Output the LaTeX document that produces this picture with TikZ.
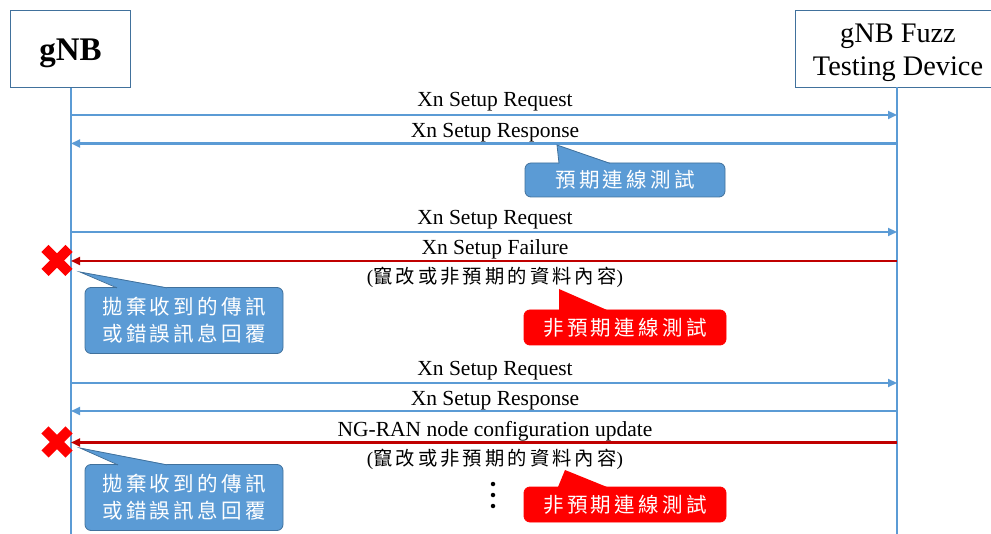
\documentclass[tikz,border=0pt]{standalone}
\usepackage{fontspec}
\setmainfont{Liberation Serif}
\newfontfamily\cjk[LetterSpace=16]{Noto Sans CJK TC}
\usetikzlibrary{arrows.meta,calc}
\definecolor{lifeblue}{HTML}{5B9BD5}
\definecolor{darkblue}{HTML}{41719C}
\definecolor{msgred}{HTML}{C00000}
\definecolor{xred}{HTML}{FF0000}
\begin{document}
\begin{tikzpicture}[x=1pt,y=-1pt,
  hdr/.style={draw=darkblue, line width=0.8pt, fill=white, inner sep=0pt},
  hdrtxt/.style={align=center, inner sep=0pt},
  life/.style={draw=lifeblue, line width=2.3pt},
  msg/.style={draw=lifeblue, line width=2.2pt, -{Triangle[length=9pt,width=8pt]}},
  bad/.style={draw=msgred, line width=2.2pt, -{Triangle[length=9pt,width=8pt]}},
  lbl/.style={font=\fontsize{21.5}{26}\selectfont, inner sep=0pt, anchor=base, xshift=11pt},
  sub/.style={font=\fontsize{19.3}{23}\selectfont, inner sep=0pt, xshift=11pt},
  callfont/.style={font=\cjk\fontsize{20.5}{27}\selectfont},
  bcall/.style={fill=lifeblue, draw=darkblue, line width=0.8pt, rounded corners=6pt, text=white, align=center, inner sep=0pt, callfont},
  rcall/.style={fill=xred, draw=xred, line width=0.8pt, rounded corners=6pt, text=white, align=center, inner sep=0pt, callfont},
  xmark/.style={draw=xred, line width=10pt},
  dot/.style={circle, fill=black, inner sep=0pt, minimum size=4.5pt},
]
\useasboundingbox (0,0) rectangle (991,534);

% headers
\node[hdr, minimum width=120pt, minimum height=77pt] (gnb) at (70.5,49) {};
\node[hdrtxt, font=\bfseries\fontsize{33}{38}\selectfont, yshift=-4pt] (gnblbl) at (gnb.center) {gNB};
\node[hdr, minimum width=206pt, minimum height=77pt] (fuzz) at (898,48.5) {};
\node[hdrtxt, font=\fontsize{28.3}{33}\selectfont, yshift=-4pt] (fuzzlbl) at (fuzz.center) {gNB Fuzz\\Testing Device};

% lifelines
\coordinate (lend) at (71,534);
\coordinate (rend) at (897,534);
\draw[life] (gnb.south -| lend) -- (lend);
\draw[life] (fuzz.south -| rend) -- (rend);

% message endpoints
\foreach \n/\y in {1/115,2/143.5,3/232,4/261,5/383,6/411,7/442.5}{
  \coordinate (l\n) at (71,\y);
  \coordinate (r\n) at (897,\y);
}

\draw[msg] (l1) -- (r1) node[lbl, midway, yshift=8pt] {Xn Setup Request};
\draw[msg] (r2) -- (l2) node[lbl, midway, yshift=5.5pt] {Xn Setup Response};
\draw[msg] (l3) -- (r3) node[lbl, midway, yshift=7.5pt] {Xn Setup Request};
\draw[bad] (r4) -- (l4) node[lbl, midway, yshift=6.5pt] {Xn Setup Failure}
  node[sub, midway, yshift=-16.5pt] {(\cjk 竄改或非預期的資料內容\rm)};
\draw[msg] (l5) -- (r5) node[lbl, midway, yshift=7.5pt] {Xn Setup Request};
\draw[msg] (r6) -- (l6) node[lbl, midway, yshift=5.5pt] {Xn Setup Response};
\draw[bad] (r7) -- (l7) node[lbl, midway, yshift=6pt] {NG-RAN node configuration update}
  node[sub, midway, yshift=-17pt] {(\cjk 竄改或非預期的資料內容\rm)};

% red crosses
\coordinate (x1) at (57,260.5);
\coordinate (x2) at (57,442);
\foreach \c in {x1,x2}{
  \draw[xmark] ($(\c)+(-12,-12)$) -- ($(\c)+(12,12)$);
  \draw[xmark] ($(\c)+(-12,12)$) -- ($(\c)+(12,-12)$);
}

% callouts
\node[bcall, minimum width=200pt, minimum height=34pt] (c1) at (625,180) {預期連線測試};
\coordinate (c1t) at (557,145);
\fill[lifeblue] (559,163) -- (c1t) -- (610,163) -- (610,166) -- (559,166) -- cycle;
\draw[darkblue, line width=0.8pt] (559,163.4) -- (c1t) -- (610,163.4);

\node[bcall, minimum width=198pt, minimum height=66pt] (c2) at (184,320.5) {拋棄收到的傳訊\\或錯誤訊息回覆};
\coordinate (c2t) at (80,272);
\fill[lifeblue] (117,287.5) -- (c2t) -- (167,287.5) -- (167,290) -- (117,290) -- cycle;
\draw[darkblue, line width=0.8pt] (117,287.9) -- (c2t) -- (167,287.9);

\node[rcall, minimum width=202pt, minimum height=35pt] (c3) at (625,327.5) {非預期連線測試};
\coordinate (c3t) at (559,289);
\fill[xred] (559,310) -- (c3t) -- (607,310) -- (607,313) -- (559,313) -- cycle;

\node[bcall, minimum width=198pt, minimum height=66pt] (c4) at (184,497.5) {拋棄收到的傳訊\\或錯誤訊息回覆};
\coordinate (c4t) at (80,448);
\fill[lifeblue] (118,464.5) -- (c4t) -- (167,464.5) -- (167,467) -- (118,467) -- cycle;
\draw[darkblue, line width=0.8pt] (118,464.9) -- (c4t) -- (167,464.9);

\node[rcall, minimum width=202pt, minimum height=35pt] (c5) at (625,504.5) {非預期連線測試};
\coordinate (c5t) at (565,470);
\fill[xred] (558,487) -- (c5t) -- (607,487) -- (607,490) -- (558,490) -- cycle;

% ellipsis
\node[dot] (d1) at (493,484) {};
\node[dot] (d2) at (493,495) {};
\node[dot] (d3) at (493,506) {};
\end{tikzpicture}
\end{document}
